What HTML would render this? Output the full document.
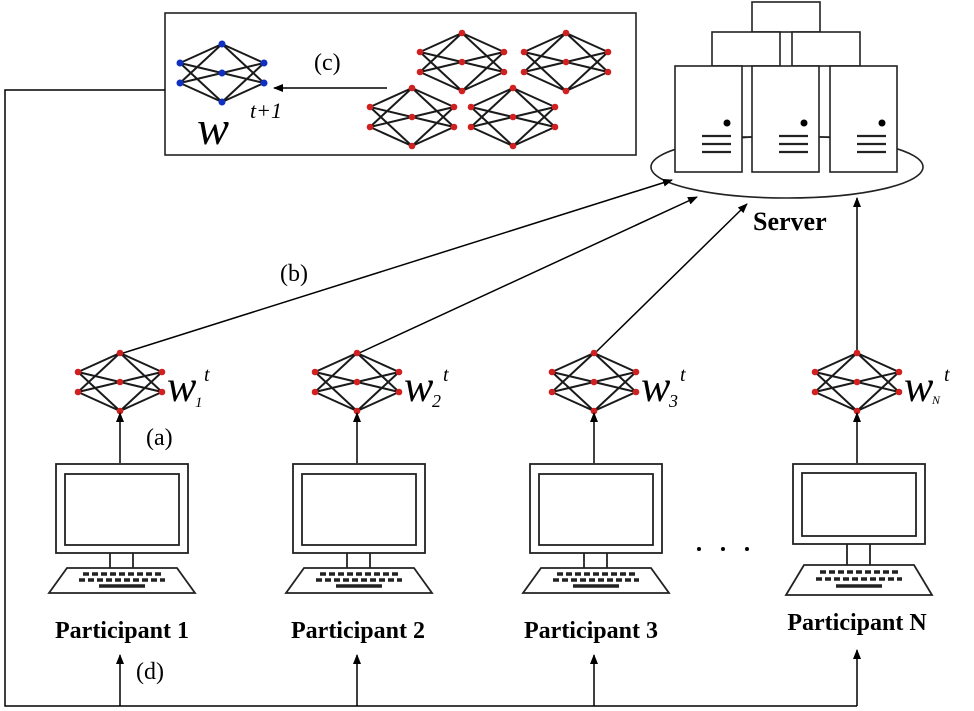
<!DOCTYPE html>
<html><head><meta charset="utf-8"><style>
html,body{margin:0;padding:0;background:#fff;}
svg{display:block;}
text{font-family:"Liberation Serif",serif;}
</style></head><body>
<svg width="974" height="711" viewBox="0 0 974 711" xmlns="http://www.w3.org/2000/svg">
<defs>
<marker id="ah" markerWidth="10" markerHeight="10" refX="9" refY="5" orient="auto" markerUnits="userSpaceOnUse">
<path d="M0,1 L10,5 L0,9 Z" fill="#000"/></marker>
<g id="edges" stroke="#1a1a1a" stroke-width="2" fill="none">
<path d="M-42,-10 L0,-29 M-42,-10 L0,0 M-42,-10 L0,29 M-42,10 L0,-29 M-42,10 L0,0 M-42,10 L0,29 M42,-10 L0,-29 M42,-10 L0,0 M42,-10 L0,29 M42,10 L0,-29 M42,10 L0,0 M42,10 L0,29"/>
</g>
<g id="rnet"><use href="#edges"/><g fill="#d02020">
<circle cx="0" cy="-29" r="3.3"/><circle cx="0" cy="0" r="3.3"/><circle cx="0" cy="29" r="3.3"/>
<circle cx="-42" cy="-10" r="3.3"/><circle cx="-42" cy="10" r="3.3"/><circle cx="42" cy="-10" r="3.3"/><circle cx="42" cy="10" r="3.3"/></g></g>
<g id="bnet"><use href="#edges"/><g fill="#1030c0">
<circle cx="0" cy="-29" r="3.5"/><circle cx="0" cy="0" r="3.5"/><circle cx="0" cy="29" r="3.5"/>
<circle cx="-42" cy="-10" r="3.5"/><circle cx="-42" cy="10" r="3.5"/><circle cx="42" cy="-10" r="3.5"/><circle cx="42" cy="10" r="3.5"/></g></g>
<g id="laptop" fill="none" stroke="#222" stroke-width="1.8">
<rect x="-65" y="0" width="132" height="89"/>
<rect x="-56" y="10" width="114" height="71"/>
<path d="M-11,89 V104 M12,89 V104"/>
<path d="M-54,104 H56 L74,129 H-72 Z" fill="#fff"/>
<path d="M-38,110 H40 M-42,116 H44" stroke-width="3.5" stroke-dasharray="6,3"/>
<path d="M-22,122 H24" stroke-width="3.5"/>
</g>
<g id="laptopN" fill="none" stroke="#222" stroke-width="1.8">
<rect x="-65" y="0" width="132" height="80"/>
<rect x="-56" y="9" width="114" height="63"/>
<path d="M-11,80 V101 M12,80 V101"/>
<path d="M-54,101 H56 L74,131 H-72 Z" fill="#fff"/>
<path d="M-38,108 H40 M-42,115 H44" stroke-width="3.5" stroke-dasharray="6,3"/>
<path d="M-22,122 H24" stroke-width="3.5"/>
</g>
<g id="rack" fill="#fff" stroke="#222" stroke-width="1.6">
<rect x="0" y="0" width="67" height="106"/>
<circle cx="52" cy="57" r="3.5" fill="#000" stroke="none"/>
<path d="M27,70 H56 M27,78 H56 M27,86 H56" stroke-width="2.2"/>
</g>
</defs>

<rect x="165" y="13" width="471" height="142" fill="none" stroke="#222" stroke-width="1.6"/>
<use href="#bnet" x="222" y="73"/>
<line x1="387" y1="88" x2="274" y2="88" stroke="#000" stroke-width="1.6" marker-end="url(#ah)"/>
<text x="314" y="70" font-size="24">(c)</text>
<text x="197" y="144" font-size="48" font-style="italic">w</text>
<text x="250" y="118" font-size="22" font-style="italic">t+1</text>
<use href="#rnet" x="462" y="62"/>
<use href="#rnet" x="566" y="62"/>
<use href="#rnet" x="412" y="117"/>
<use href="#rnet" x="513" y="117"/>

<ellipse cx="787" cy="167" rx="136" ry="31" fill="none" stroke="#222" stroke-width="1.6"/>
<g fill="#fff" stroke="#222" stroke-width="1.6">
<rect x="752" y="2" width="68" height="30"/>
<rect x="712" y="32" width="68" height="34"/>
<rect x="792" y="32" width="68" height="34"/>
</g>
<use href="#rack" x="675" y="66"/>
<use href="#rack" x="752" y="66"/>
<use href="#rack" x="830" y="66"/>
<line x1="742" y1="137" x2="752" y2="137" stroke="#222" stroke-width="1.6"/>
<line x1="819" y1="137" x2="830" y2="137" stroke="#222" stroke-width="1.6"/>
<text x="753" y="230" font-size="26" font-weight="bold">Server</text>

<g stroke="#000" stroke-width="1.5" marker-end="url(#ah)">
<line x1="120" y1="354" x2="672" y2="180"/>
<line x1="357" y1="354" x2="697" y2="197"/>
<line x1="594" y1="354" x2="747" y2="204"/>
<line x1="857" y1="354" x2="857" y2="198"/>
</g>
<text x="280" y="281" font-size="24">(b)</text>

<use href="#rnet" x="120" y="382"/>
<use href="#rnet" x="357" y="382"/>
<use href="#rnet" x="594" y="382"/>
<use href="#rnet" x="857" y="382"/>
<g font-style="italic">
<text x="167" y="401" font-size="44">w</text><text x="195" y="407" font-size="15">1</text><text x="204" y="381" font-size="20">t</text>
<text x="404" y="401" font-size="44">w</text><text x="432" y="407" font-size="18">2</text><text x="443" y="381" font-size="20">t</text>
<text x="641" y="401" font-size="44">w</text><text x="669" y="407" font-size="18">3</text><text x="680" y="381" font-size="20">t</text>
<text x="904" y="401" font-size="44">w</text><text x="932" y="404" font-size="12">N</text><text x="944" y="381" font-size="20">t</text>
</g>

<g stroke="#000" stroke-width="1.5" marker-end="url(#ah)">
<line x1="120" y1="463" x2="120" y2="413"/>
<line x1="357" y1="463" x2="357" y2="413"/>
<line x1="594" y1="463" x2="594" y2="413"/>
<line x1="857" y1="463" x2="857" y2="413"/>
</g>
<text x="146" y="445" font-size="24">(a)</text>

<use href="#laptop" x="121" y="464"/>
<use href="#laptop" x="358" y="464"/>
<use href="#laptop" x="595" y="464"/>
<use href="#laptopN" x="858" y="464"/>
<g fill="#000"><circle cx="699" cy="549" r="2"/><circle cx="723" cy="549" r="2"/><circle cx="747" cy="549" r="2"/></g>

<g font-size="24" font-weight="bold" text-anchor="middle">
<text x="122" y="638">Participant 1</text>
<text x="358" y="638">Participant 2</text>
<text x="591" y="638">Participant 3</text>
<text x="857" y="630">Participant N</text>
</g>

<path d="M165,90 H5 V706 H857" fill="none" stroke="#000" stroke-width="1.5"/>
<g stroke="#000" stroke-width="1.5" marker-end="url(#ah)">
<line x1="120" y1="706" x2="120" y2="655"/>
<line x1="357" y1="706" x2="357" y2="655"/>
<line x1="594" y1="706" x2="594" y2="655"/>
<line x1="857" y1="706" x2="857" y2="650"/>
</g>
<text x="136" y="679" font-size="24">(d)</text>
</svg>
</body></html>
